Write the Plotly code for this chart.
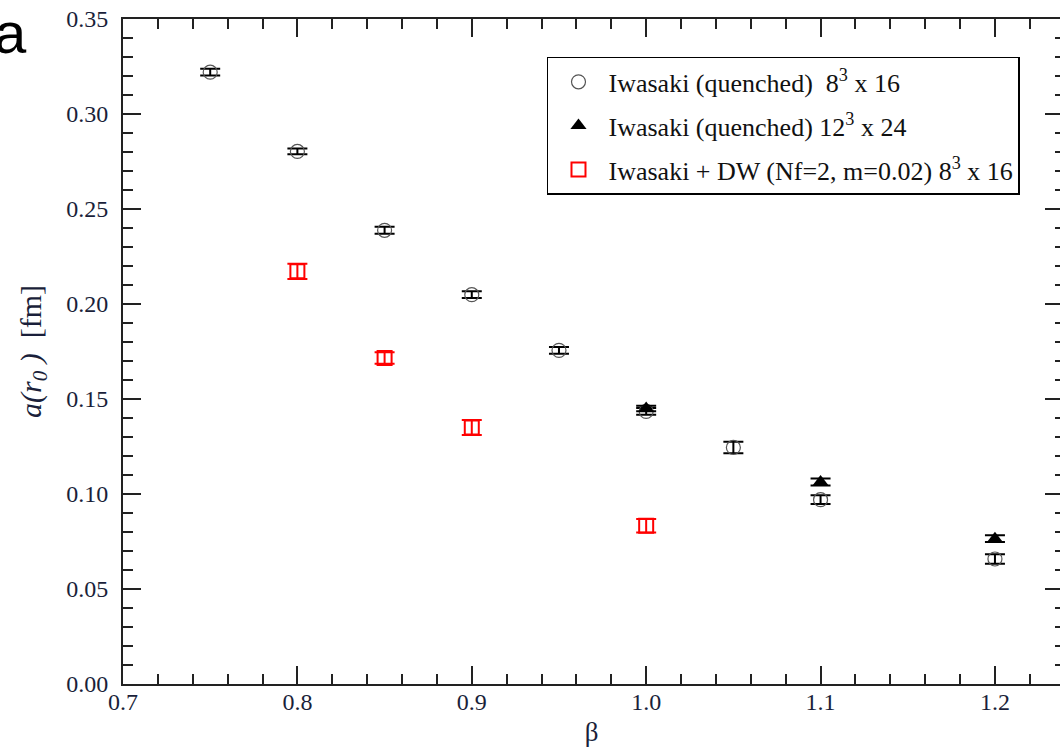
import plotly.graph_objects as go

# Lattice spacing a(r0) vs beta
beta_q8 = [0.75, 0.80, 0.85, 0.90, 0.95, 1.00, 1.05, 1.10, 1.20]
a_q8 = [0.3220, 0.2803, 0.2388, 0.2049, 0.1756, 0.1435, 0.1245, 0.0970, 0.0658]
err_q8 = [0.0018, 0.0015, 0.0018, 0.0018, 0.0018, 0.0018, 0.0030, 0.0023, 0.0025]

beta_q12 = [1.00, 1.10, 1.20]
a_q12 = [0.1450, 0.1063, 0.0765]
err_q12 = [0.0015, 0.0018, 0.0018]

beta_dw = [0.80, 0.85, 0.90, 1.00]
a_dw = [0.2172, 0.1716, 0.1350, 0.0833]
err_dw = [0.0040, 0.0030, 0.0040, 0.0035]

names = [
    "Iwasaki (quenched)  8<sup>3</sup> x 16",
    "Iwasaki (quenched) 12<sup>3</sup> x 24",
    "Iwasaki + DW (Nf=2, m=0.02) 8<sup>3</sup> x 16",
]

x_ticks = [0.7, 0.8, 0.9, 1.0, 1.1, 1.2]
x_ticktext = ["0.7", "0.8", "0.9", "1.0", "1.1", "1.2"]
y_ticks = [0.00, 0.05, 0.10, 0.15, 0.20, 0.25, 0.30, 0.35]
y_ticktext = ["0.00", "0.05", "0.10", "0.15", "0.20", "0.25", "0.30", "0.35"]

SERIF = "Liberation Serif, Times New Roman, serif"
AX = "#222222"
LBL = "#1a1f3a"

fig = go.Figure()

fig.add_trace(go.Scatter(
    x=beta_q8, y=a_q8, mode="markers", name=names[0], legendgroup="g1",
    marker=dict(symbol="circle-open", size=14, color="#555555", line=dict(width=1.2)),
    error_y=dict(type="data", array=err_q8, visible=True, color="black", thickness=2, width=10),
))
fig.add_trace(go.Scatter(
    x=beta_q12, y=a_q12, mode="markers", name=names[1], legendgroup="g2",
    marker=dict(symbol="triangle-up", size=14, color="black"),
    error_y=dict(type="data", array=err_q12, visible=True, color="black", thickness=2, width=10),
))
fig.add_trace(go.Scatter(
    x=beta_dw, y=a_dw, mode="markers", name=names[2], legendgroup="g3",
    marker=dict(symbol="square-open", size=14, color="red", line=dict(width=2)),
    error_y=dict(type="data", array=err_dw, visible=True, color="red", thickness=2, width=10),
))

# invisible trace to carry the right-hand tick axis
fig.add_trace(go.Scatter(x=[0.7], y=[0], yaxis="y2", mode="markers",
                         marker=dict(opacity=0), showlegend=False, hoverinfo="skip"))

fig.update_layout(
    width=1060, height=750,
    margin=dict(l=123, r=0, t=19, b=66),
    paper_bgcolor="white", plot_bgcolor="white",
    showlegend=True,
    legend=dict(
        x=0.4525, y=0.943, xanchor="left", yanchor="top",
        bordercolor="black", borderwidth=1.5, bgcolor="white",
        font=dict(family=SERIF, size=26, color="#111111"),
        tracegroupgap=7, itemwidth=50,
    ),
    xaxis=dict(
        range=[0.7, 1.2373], showgrid=False, zeroline=False, automargin=False,
        showline=True, linecolor=AX, linewidth=2, mirror="ticks",
        ticks="inside", ticklen=18, tickwidth=2, tickcolor=AX,
        tickvals=x_ticks, ticktext=x_ticktext, ticklabelstandoff=-5,
        tickfont=dict(family=SERIF, size=24, color=LBL),
        minor=dict(ticks="inside", ticklen=10, tickwidth=2, tickcolor=AX, dtick=0.02, showgrid=False),
        title=dict(text="β", font=dict(family=SERIF, size=27, color=LBL), standoff=8),
    ),
    yaxis=dict(
        range=[0, 0.35], showgrid=False, zeroline=False, automargin=False,
        showline=True, linecolor=AX, linewidth=2, mirror=False,
        ticks="inside", ticklen=18, tickwidth=2, tickcolor=AX,
        tickvals=y_ticks, ticktext=y_ticktext, ticklabelstandoff=8,
        tickfont=dict(family=SERIF, size=24, color=LBL),
        minor=dict(ticks="inside", ticklen=10, tickwidth=2, tickcolor=AX, dtick=0.01, showgrid=False),
        title=dict(text="<i>a(r<sub>0</sub> )</i>  [fm]", font=dict(family=SERIF, size=30, color=LBL), standoff=16),
    ),
    yaxis2=dict(
        range=[0, 0.35], overlaying="y", side="right", anchor="x", automargin=False,
        showgrid=False, zeroline=False, showline=False,
        ticks="inside", ticklen=15, tickwidth=2, tickcolor=AX,
        tickvals=y_ticks, showticklabels=False,
        minor=dict(ticks="inside", ticklen=5, tickwidth=2, tickcolor=AX, dtick=0.01, showgrid=False),
    ),
)

fig.add_annotation(
    text="a", xref="paper", yref="paper", x=-0.12, y=0.98,
    xanchor="center", yanchor="middle", showarrow=False,
    font=dict(family="Liberation Sans, Arial, sans-serif", size=58, color="black"),
)

fig.write_html("out.html")
